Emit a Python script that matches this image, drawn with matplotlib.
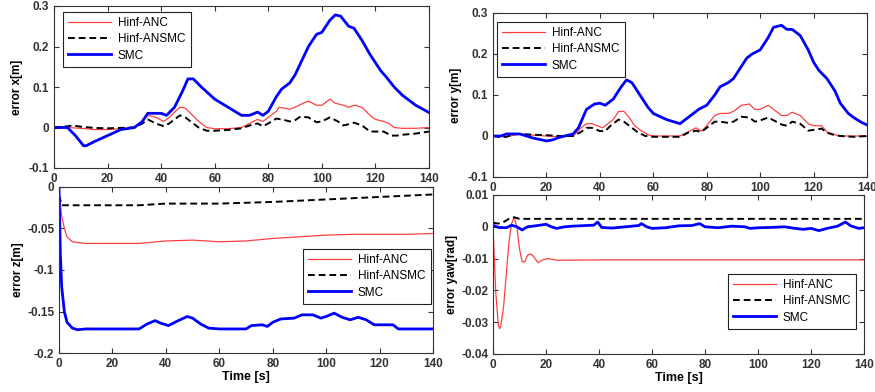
import matplotlib
matplotlib.use("Agg")
import matplotlib.pyplot as plt

plt.rcParams['font.family'] = ['Liberation Sans', 'DejaVu Sans']

labels = ["Hinf-ANC", "Hinf-ANSMC", "SMC"]

# ---- error x ----
tx_smc = [0, 5, 8, 11, 12, 15, 20, 25, 30, 33, 35, 40, 42, 45, 48, 50, 52, 55, 60, 65, 70, 73, 76, 78, 80, 83, 85, 88, 90, 95, 98, 100, 103, 105, 107, 110, 112, 115, 118, 120, 122, 124, 127, 130, 135, 140]
ex_smc = [0, 0, -0.02, -0.045, -0.045, -0.035, -0.02, -0.005, 0.0, 0.015, 0.035, 0.035, 0.03, 0.05, 0.09, 0.12, 0.12, 0.1, 0.07, 0.05, 0.03, 0.03, 0.038, 0.03, 0.04, 0.076, 0.095, 0.11, 0.13, 0.2, 0.23, 0.235, 0.265, 0.278, 0.275, 0.25, 0.245, 0.215, 0.18, 0.16, 0.14, 0.125, 0.1, 0.08, 0.055, 0.037]
tx_anc = [0, 5, 10, 15, 20, 25, 30, 33, 35, 38, 41, 43, 45, 47, 49, 51, 54, 57, 60, 65, 70, 73, 76, 78, 80, 83, 84, 88, 90, 93, 95, 98, 100, 103, 105, 108, 110, 112, 115, 118, 120, 123, 125, 127, 130, 135, 140]
ex_anc = [0, 0, -0.002, -0.005, -0.005, -0.003, -0.002, 0.015, 0.03, 0.025, 0.015, 0.025, 0.038, 0.05, 0.048, 0.035, 0.015, 0.0, -0.003, -0.003, 0.0, 0.01, 0.02, 0.015, 0.025, 0.04, 0.05, 0.045, 0.05, 0.06, 0.065, 0.055, 0.055, 0.07, 0.06, 0.055, 0.05, 0.055, 0.05, 0.03, 0.02, 0.015, 0.01, 0.0, -0.002, -0.002, 0.0]
tx_ansmc = [0, 5, 7, 10, 15, 20, 25, 30, 33, 35, 38, 41, 43, 45, 47, 49, 51, 54, 57, 60, 65, 70, 73, 76, 78, 80, 83, 85, 88, 90, 92, 95, 98, 100, 103, 106, 108, 110, 112, 115, 118, 120, 123, 126, 128, 130, 135, 140]
ex_ansmc = [0, 0.003, 0.005, 0.002, -0.001, -0.002, -0.001, 0.0, 0.01, 0.02, 0.01, 0.003, 0.01, 0.02, 0.03, 0.025, 0.015, 0.0, -0.008, -0.008, -0.006, -0.002, 0.005, 0.01, 0.003, 0.01, 0.022, 0.02, 0.015, 0.018, 0.027, 0.025, 0.013, 0.015, 0.025, 0.015, 0.005, 0.008, 0.012, 0.005, -0.01, -0.01, -0.01, -0.02, -0.02, -0.018, -0.015, -0.01]

# ---- error y ----
ty_smc = [0, 3, 5, 10, 15, 20, 22, 25, 30, 32, 35, 38, 40, 42, 45, 48, 50, 52, 55, 58, 60, 65, 70, 72, 75, 77, 80, 83, 85, 88, 90, 93, 95, 97, 100, 103, 105, 108, 110, 112, 115, 118, 120, 122, 125, 128, 130, 133, 135, 138, 140]
ey_smc = [0, 0, 0.005, 0.005, -0.005, -0.012, -0.01, -0.003, 0.005, 0.02, 0.065, 0.078, 0.08, 0.075, 0.09, 0.12, 0.137, 0.13, 0.1, 0.07, 0.055, 0.04, 0.03, 0.04, 0.055, 0.065, 0.075, 0.1, 0.12, 0.13, 0.14, 0.17, 0.19, 0.2, 0.21, 0.24, 0.265, 0.27, 0.26, 0.26, 0.245, 0.21, 0.18, 0.16, 0.14, 0.11, 0.08, 0.055, 0.045, 0.033, 0.027]
ty_anc = [0, 5, 10, 15, 20, 25, 30, 33, 35, 37, 41, 43, 45, 47, 49, 51, 53, 55, 58, 60, 65, 70, 73, 76, 78, 80, 83, 85, 88, 90, 93, 96, 98, 100, 103, 105, 108, 110, 112, 115, 118, 120, 123, 125, 128, 130, 135, 140]
ey_anc = [0, -0.002, 0.005, 0.002, 0.0, -0.002, 0.0, 0.02, 0.03, 0.03, 0.02, 0.03, 0.04, 0.06, 0.06, 0.045, 0.025, 0.015, 0.003, 0.0, 0.0, 0.0, 0.01, 0.02, 0.012, 0.025, 0.05, 0.055, 0.055, 0.06, 0.075, 0.078, 0.065, 0.065, 0.075, 0.065, 0.05, 0.05, 0.058, 0.05, 0.03, 0.025, 0.025, 0.01, 0.003, 0.0, 0.0, 0.0]
ty_ansmc = [0, 3, 5, 8, 10, 15, 20, 25, 30, 33, 35, 37, 40, 42, 44, 47, 49, 51, 54, 57, 60, 65, 70, 73, 76, 78, 80, 83, 85, 88, 90, 93, 96, 98, 100, 103, 106, 108, 110, 112, 115, 118, 120, 123, 125, 128, 130, 135, 140]
ey_ansmc = [0, -0.003, -0.002, 0.005, 0.005, 0.003, 0.002, 0.0, 0.0, 0.01, 0.02, 0.02, 0.012, 0.012, 0.025, 0.04, 0.035, 0.025, 0.01, 0.0, -0.002, -0.002, -0.002, 0.008, 0.013, 0.01, 0.02, 0.035, 0.035, 0.032, 0.035, 0.047, 0.045, 0.035, 0.038, 0.045, 0.035, 0.028, 0.025, 0.035, 0.03, 0.013, 0.015, 0.018, 0.008, 0.002, 0.0, -0.002, 0.0]

# ---- error z ----
tz_smc = [0, 0.5, 1, 2, 3, 5, 7, 10, 30, 33, 36, 38, 41, 44, 48, 50, 53, 56, 60, 70, 72, 76, 78, 80, 83, 88, 91, 95, 98, 100, 103, 106, 109, 112, 115, 118, 122, 125, 127, 140]
ez_smc = [0, -0.08, -0.12, -0.15, -0.163, -0.17, -0.172, -0.171, -0.171, -0.165, -0.161, -0.164, -0.167, -0.162, -0.156, -0.158, -0.165, -0.17, -0.171, -0.171, -0.167, -0.166, -0.168, -0.163, -0.159, -0.158, -0.154, -0.154, -0.158, -0.156, -0.152, -0.157, -0.16, -0.157, -0.16, -0.166, -0.166, -0.166, -0.171, -0.171]
tz_anc = [0, 1, 2, 3, 5, 10, 30, 40, 50, 60, 70, 80, 90, 100, 110, 120, 130, 140]
ez_anc = [-0.005, -0.035, -0.05, -0.06, -0.066, -0.068, -0.068, -0.065, -0.064, -0.066, -0.065, -0.062, -0.06, -0.058, -0.057, -0.057, -0.057, -0.056]
tz_ansmc = [0, 1, 10, 30, 40, 60, 80, 100, 120, 140]
ez_ansmc = [-0.01, -0.022, -0.022, -0.022, -0.02, -0.02, -0.018, -0.015, -0.012, -0.009]

# ---- error yaw ----
tw_anc = [0, 1, 2, 2.5, 3, 4, 5, 6, 7, 8, 9, 10, 11, 12, 13, 14, 15, 17, 19, 21, 24, 30, 40, 140]
ew_anc = [0, -0.02, -0.031, -0.032, -0.031, -0.025, -0.015, -0.005, 0.001, 0.003, 0.0, -0.007, -0.011, -0.011, -0.009, -0.0085, -0.009, -0.0113, -0.0103, -0.01, -0.0105, -0.0105, -0.0104, -0.0104]
tw_ansmc = [0, 2, 4, 6, 8, 10, 140]
ew_ansmc = [0.0013, 0.001, 0.0015, 0.0025, 0.003, 0.0025, 0.0025]
tw_smc = [0, 2, 5, 7, 9, 11, 13, 16, 20, 22, 24, 27, 30, 35, 38, 39.5, 41, 45, 50, 55, 56, 58, 60, 65, 70, 75, 78, 80, 85, 90, 95, 97, 100, 105, 110, 114, 117, 120, 123, 126, 130, 133, 135, 138, 140]
ew_smc = [0.0005, -0.0002, -0.0003, 0.0005, 0.0, -0.001, 0.0, 0.0003, 0.0008, 0.0, -0.0005, 0.0, 0.0002, 0.0004, 0.0005, 0.0015, -0.0002, -0.0004, 0.0, 0.0004, 0.001, 0.0, -0.0005, -0.0003, 0.0003, 0.0004, 0.001, 0.0, -0.0003, 0.0002, 0.0, -0.0005, -0.0003, -0.0002, 0.0, -0.0005, -0.0008, -0.0005, -0.0012, -0.0005, 0.0002, 0.0015, 0.0003, -0.0005, -0.0003]

RED = '#ff4040'
BLUE = '#0000ff'

fig = plt.figure(figsize=(8.75, 3.92), dpi=100)

def fpos(l, t, r, b):
    W, H = 875, 392
    return [l / W, 1 - b / H, (r - l) / W, (b - t) / H]

ax_tl = fig.add_axes(fpos(54, 6, 429, 168))
ax_tr = fig.add_axes(fpos(493, 13, 867, 177))
ax_bl = fig.add_axes(fpos(59, 187, 433, 353))
ax_br = fig.add_axes(fpos(493, 195, 864, 354))

def draw(ax, anc, ansmc, smc):
    ax.plot(anc[0], anc[1], color=RED, lw=0.9, label=labels[0])
    ax.plot(ansmc[0], ansmc[1], color='black', lw=1.4, ls=(0, (3.5, 2)), label=labels[1])
    ax.plot(smc[0], smc[1], color=BLUE, lw=2.0, label=labels[2])
    ax.set_xlim(0, 140)
    ax.set_xticks(range(0, 141, 20))
    ax.tick_params(direction='in', top=True, right=True, length=3.5, width=0.8,
                   labelsize=8.5, colors='#333333', labelcolor='#333333')
    for lab in ax.get_xticklabels() + ax.get_yticklabels():
        lab.set_fontweight('bold')
    for s in ax.spines.values():
        s.set_color('#333333')
        s.set_linewidth(0.8)

draw(ax_tl, (tx_anc, ex_anc), (tx_ansmc, ex_ansmc), (tx_smc, ex_smc))
ax_tl.set_ylim(-0.1, 0.3)
ax_tl.set_yticks([-0.1, 0, 0.1, 0.2, 0.3])
ax_tl.set_yticklabels(['-0.1', '0', '0.1', '0.2', '0.3'], fontweight='bold')
ax_tl.set_ylabel('error x[m]', fontweight='bold', fontsize=8.5, labelpad=4)

draw(ax_tr, (ty_anc, ey_anc), (ty_ansmc, ey_ansmc), (ty_smc, ey_smc))
ax_tr.set_ylim(-0.1, 0.3)
ax_tr.set_yticks([-0.1, 0, 0.1, 0.2, 0.3])
ax_tr.set_yticklabels(['-0.1', '0', '0.1', '0.2', '0.3'], fontweight='bold')
ax_tr.set_ylabel('error y[m]', fontweight='bold', fontsize=8.5, labelpad=4)

draw(ax_bl, (tz_anc, ez_anc), (tz_ansmc, ez_ansmc), (tz_smc, ez_smc))
ax_bl.set_ylim(-0.2, 0)
ax_bl.set_yticks([-0.2, -0.15, -0.1, -0.05, 0])
ax_bl.set_yticklabels(['-0.2', '-0.15', '-0.1', '-0.05', '0'], fontweight='bold')
ax_bl.set_ylabel('error z[m]', fontweight='bold', fontsize=8.5, labelpad=2)
ax_bl.set_xlabel('Time [s]', fontweight='bold', fontsize=9, labelpad=1)

draw(ax_br, (tw_anc, ew_anc), (tw_ansmc, ew_ansmc), (tw_smc, ew_smc))
ax_br.set_ylim(-0.04, 0.01)
ax_br.set_yticks([-0.04, -0.03, -0.02, -0.01, 0, 0.01])
ax_br.set_yticklabels(['-0.04', '-0.03', '-0.02', '-0.01', '0', '0.01'], fontweight='bold')
ax_br.set_ylabel('error yaw[rad]', fontweight='bold', fontsize=8.5, labelpad=2)
ax_br.set_xlabel('Time [s]', fontweight='bold', fontsize=9, labelpad=1)

for ax in (ax_tl, ax_tr, ax_bl, ax_br):
    for lab in ax.get_xticklabels():
        lab.set_fontweight('bold')

def leg(ax, x, y):
    W, H = 875, 392
    L = ax.legend(loc='upper left', bbox_to_anchor=(x / W, 1 - y / H),
                  bbox_transform=fig.transFigure, borderaxespad=0,
                  fancybox=False, framealpha=1, edgecolor='#222222',
                  fontsize=8.5, handlelength=3.6, handletextpad=0.6,
                  labelspacing=0.35, borderpad=0.45)
    L.get_frame().set_linewidth(0.8)

leg(ax_tl, 63, 12)
leg(ax_tr, 497, 22)
leg(ax_bl, 303, 249)
leg(ax_br, 728, 274)

fig.savefig('out.png', dpi=100)
